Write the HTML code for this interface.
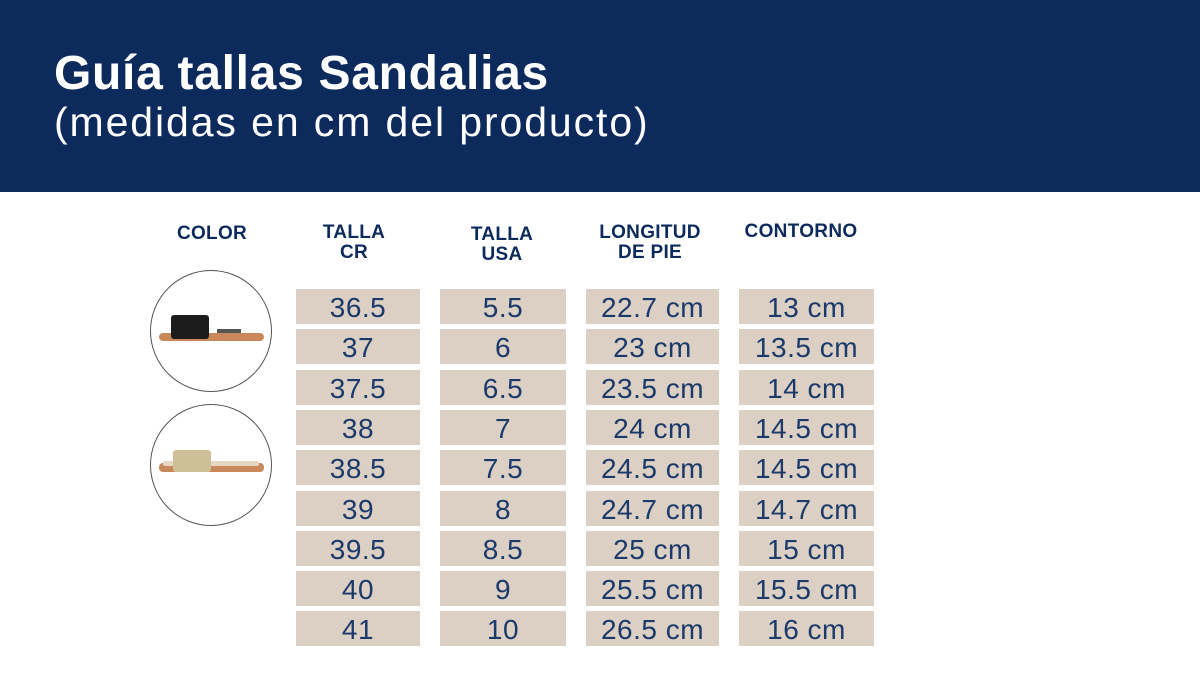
<!DOCTYPE html>
<html><head><meta charset="utf-8"><style>
body{margin:0;width:1200px;height:697px;background:#fff;position:relative;overflow:hidden;font-family:"Liberation Sans",sans-serif}
.hdr{position:absolute;left:0;top:0;width:1200px;height:192px;background:#0c2a5b}
.t1{position:absolute;left:54px;top:46px;color:#fff;font-size:48px;font-weight:bold;letter-spacing:0.7px}
.t2{position:absolute;left:54px;top:99px;color:#fff;font-size:41px;letter-spacing:1.9px}
.h{position:absolute;color:#0c2a5b;font-weight:bold;font-size:19px;text-align:center;line-height:20px;letter-spacing:0.3px}
.c{position:absolute;height:35px;background:#dccfc3;color:#1a3a6b;font-size:28px;text-align:center;line-height:37px;letter-spacing:0.5px}
.circ{position:absolute;width:122px;height:122px;border:1.5px solid #555;border-radius:50%;box-sizing:border-box}
</style></head><body>
<div class="hdr"></div>
<div class="t1">Guía tallas Sandalias</div>
<div class="t2">(medidas en cm del producto)</div>
<div class="h" style="left:162px;top:224px;width:100px">COLOR</div>
<div class="h" style="left:304px;top:223px;width:100px">TALLA<br>CR</div>
<div class="h" style="left:452px;top:225px;width:100px">TALLA<br>USA</div>
<div class="h" style="left:580px;top:223px;width:140px">LONGITUD<br>DE PIE</div>
<div class="h" style="left:731px;top:222px;width:140px">CONTORNO</div>
<div class="circ" style="left:150px;top:270px"></div>
<div class="circ" style="left:150px;top:404px"></div>
<svg style="position:absolute;left:151px;top:271px" width="120" height="120">
<rect x="8" y="62" width="105" height="8" rx="4" fill="#c8885a"/>
<rect x="20" y="44" width="38" height="24" rx="3" fill="#1c1c1c"/>
<rect x="66" y="58" width="24" height="4" fill="#555"/></svg>
<svg style="position:absolute;left:151px;top:405px" width="120" height="120">
<rect x="8" y="58" width="105" height="9" rx="4" fill="#c8885a"/>
<rect x="12" y="56" width="96" height="5" rx="2" fill="#e6d6c6"/>
<rect x="22" y="45" width="38" height="22" rx="3" fill="#cdbf98"/></svg>
<div id="g"></div>
<script>
var d=[["36.5","5.5","22.7 cm","13 cm"],["37","6","23 cm","13.5 cm"],["37.5","6.5","23.5 cm","14 cm"],["38","7","24 cm","14.5 cm"],["38.5","7.5","24.5 cm","14.5 cm"],["39","8","24.7 cm","14.7 cm"],["39.5","8.5","25 cm","15 cm"],["40","9","25.5 cm","15.5 cm"],["41","10","26.5 cm","16 cm"]];
var cx=[[296,124],[440,126],[586,133],[739,135]];var h="";
d.forEach(function(r,i){r.forEach(function(v,j){h+='<div class="c" style="left:'+cx[j][0]+'px;width:'+cx[j][1]+'px;top:'+(289+i*40.3)+'px">'+v+'</div>';});});
document.getElementById("g").innerHTML=h;
</script>
</body></html>
